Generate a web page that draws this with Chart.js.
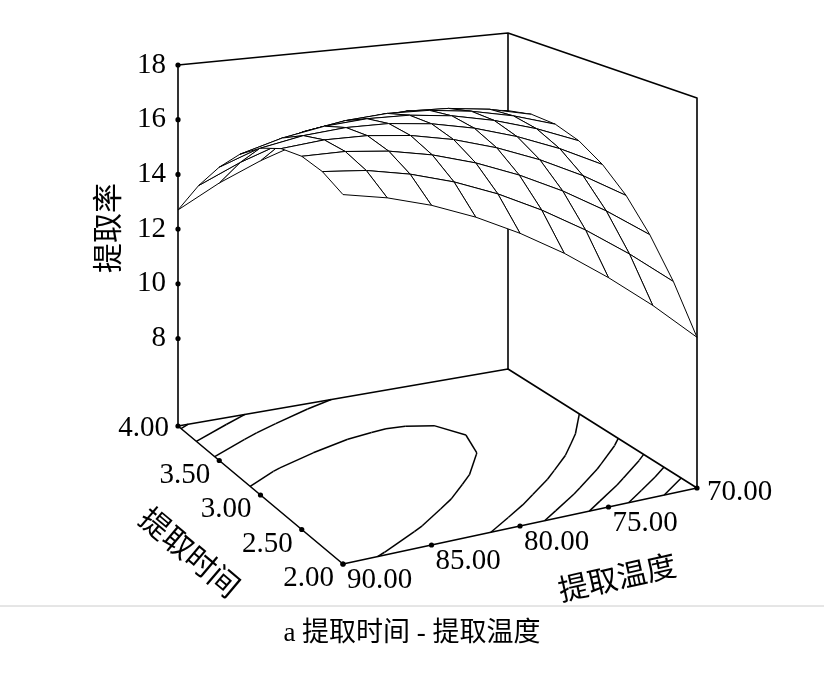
<!DOCTYPE html>
<html>
<head>
<meta charset="utf-8">
<script src="https://cdn.jsdelivr.net/npm/chart.js@4"></script>
<style>
	html, body { margin: 0; padding: 0; background: #fff; }
	#wrap { width: 824px; height: 678px; }
</style>
</head>
<body>
<div id="wrap"><canvas id="surfaceChart"></canvas></div>
<script>
// extraction time (h), rows of the grid
const times = [2.0, 2.25, 2.5, 2.75, 3.0, 3.25, 3.5, 3.75, 4.0];
// extraction temperature (°C), columns of the grid
const temps = [70, 72.5, 75, 77.5, 80, 82.5, 85, 87.5, 90];
// extraction rate, rows = times, cols = temps
const rate = [
	[9.90, 11.25, 12.44, 13.50, 14.40, 15.16, 15.77, 16.23, 16.55],
	[11.40, 12.60, 13.66, 14.57, 15.34, 15.96, 16.43, 16.76, 16.93],
	[12.64, 13.71, 14.63, 15.40, 16.03, 16.51, 16.84, 17.03, 17.07],
	[13.65, 14.58, 15.36, 15.99, 16.48, 16.82, 17.01, 17.06, 16.96],
	[14.40, 15.19, 15.83, 16.33, 16.68, 16.88, 16.93, 16.84, 16.60],
	[14.91, 15.56, 16.06, 16.42, 16.63, 16.69, 16.61, 16.38, 16.00],
	[15.17, 15.68, 16.04, 16.26, 16.33, 16.25, 16.03, 15.66, 15.14],
	[15.18, 15.56, 15.78, 15.86, 15.79, 15.58, 15.21, 14.70, 14.05],
	[14.95, 15.18, 15.27, 15.21, 15.00, 14.65, 14.14, 13.50, 12.70],
];
const rateTicks = [8, 10, 12, 14, 16, 18];
const timeTicks = [2.0, 2.5, 3.0, 3.5, 4.0];
const tempTicks = [90, 85, 80, 75, 70];
const contourLevels = [10.9, 11.9, 12.9, 13.9, 14.9, 16.3];

const zMin = 4.8, zMax = 18;
const numFont = "29px 'Liberation Serif', 'DejaVu Serif', serif";
const cjkFont = "30px 'Noto Sans CJK SC', sans-serif";

// box frame corners in chart units: [floor, top]
const frame = {
	"2_90": [[343, 564], [343, 149]],
	"4_90": [[178, 426], [178, 65]],
	"2_70": [[697, 488], [697, 98]],
	"4_70": [[508, 369], [508, 33]],
};

function lerp(a, b, f) { return [a[0] + (b[0] - a[0]) * f, a[1] + (b[1] - a[1]) * f]; }

function project(t, T, z) {
	const u = (t - 2) / 2, v = (90 - T) / 20, w = (z - zMin) / (zMax - zMin);
	const c = (k) => lerp(frame[k][0], frame[k][1], w);
	const a = lerp(c("2_90"), c("2_70"), v);
	const b = lerp(c("4_90"), c("4_70"), v);
	return lerp(a, b, u);
}

const surfacePlugin = {
	id: "surface",
	afterDatasetsDraw(chart) {
		const { ctx, scales } = chart;
		const px = (t, T, z) => {
			const p = project(t, T, z);
			return [scales.x.getPixelForValue(p[0]), scales.y.getPixelForValue(p[1])];
		};
		const line = (pts) => {
			ctx.beginPath();
			pts.forEach((p, i) => (i ? ctx.lineTo(p[0], p[1]) : ctx.moveTo(p[0], p[1])));
			ctx.stroke();
		};
		ctx.save();
		ctx.strokeStyle = "#000";
		ctx.lineWidth = 1.6;
		ctx.lineJoin = "round";

		// back walls and floor
		line([px(4, 90, zMin), px(4, 90, zMax), px(4, 70, zMax), px(2, 70, zMax), px(2, 70, zMin)]);
		line([px(4, 70, zMin), px(4, 70, zMax)]);
		line([px(4, 90, zMin), px(2, 90, zMin), px(2, 70, zMin), px(4, 70, zMin), px(4, 90, zMin)]);

		// floor contours (marching squares on the grid)
		ctx.lineWidth = 1.5;
		contourLevels.forEach((lv) => {
			for (let i = 0; i < times.length - 1; i++) {
				for (let j = 0; j < temps.length - 1; j++) {
					const c = [
						[times[i], temps[j], rate[i][j]],
						[times[i], temps[j + 1], rate[i][j + 1]],
						[times[i + 1], temps[j + 1], rate[i + 1][j + 1]],
						[times[i + 1], temps[j], rate[i + 1][j]],
					];
					const hits = [];
					for (let k = 0; k < 4; k++) {
						const p = c[k], q = c[(k + 1) % 4];
						if ((p[2] - lv) * (q[2] - lv) < 0) {
							const f = (lv - p[2]) / (q[2] - p[2]);
							hits.push(px(p[0] + (q[0] - p[0]) * f, p[1] + (q[1] - p[1]) * f, zMin));
						}
					}
					if (hits.length >= 2) line([hits[0], hits[1]]);
					if (hits.length === 4) line([hits[2], hits[3]]);
				}
			}
		});

		// surface mesh, far cells first
		const cells = [];
		for (let i = 0; i < times.length - 1; i++)
			for (let j = 0; j < temps.length - 1; j++) cells.push([i, j, i + (temps.length - 2 - j)]);
		cells.sort((a, b) => b[2] - a[2]);
		ctx.lineWidth = 1;
		ctx.fillStyle = "#fff";
		cells.forEach(([i, j]) => {
			const pts = [
				px(times[i], temps[j], rate[i][j]),
				px(times[i], temps[j + 1], rate[i][j + 1]),
				px(times[i + 1], temps[j + 1], rate[i + 1][j + 1]),
				px(times[i + 1], temps[j], rate[i + 1][j]),
			];
			ctx.beginPath();
			pts.forEach((p, k) => (k ? ctx.lineTo(p[0], p[1]) : ctx.moveTo(p[0], p[1])));
			ctx.closePath();
			ctx.fill();
			ctx.stroke();
		});

		// ticks and labels
		ctx.fillStyle = "#000";
		ctx.font = numFont;
		const dot = (p) => { ctx.beginPath(); ctx.arc(p[0], p[1], 2.6, 0, Math.PI * 2); ctx.fill(); };
		ctx.textAlign = "right";
		ctx.textBaseline = "middle";
		rateTicks.forEach((z) => {
			const p = px(4, 90, z);
			dot(p);
			ctx.fillText(String(z), p[0] - 12, p[1]);
		});
		ctx.textBaseline = "top";
		timeTicks.forEach((t) => {
			const p = px(t, 90, zMin);
			dot(p);
			ctx.fillText(t.toFixed(2), p[0] - 9, p[1] + (t === 4 ? -12 : 0));
		});
		ctx.textAlign = "left";
		tempTicks.forEach((T) => {
			const p = px(2, T, zMin);
			dot(p);
			ctx.fillText(T.toFixed(2), p[0] + (T === 70 ? 10 : 4), p[1] + (T === 70 ? -10 : 2));
		});

		// axis titles
		ctx.font = cjkFont;
		ctx.textAlign = "center";
		ctx.textBaseline = "middle";
		ctx.save();
		ctx.translate(107, 228);
		ctx.rotate(-Math.PI / 2);
		ctx.fillText("提取率", 0, 0);
		ctx.restore();
		ctx.save();
		ctx.translate(190, 552);
		ctx.rotate(0.7);
		ctx.fillText("提取时间", 0, 0);
		ctx.restore();
		ctx.save();
		ctx.translate(617, 577);
		ctx.rotate(-0.22);
		ctx.fillText("提取温度", 0, 0);
		ctx.restore();

		// caption
		ctx.strokeStyle = "#ccc";
		ctx.lineWidth = 1;
		line([[scales.x.getPixelForValue(0), scales.y.getPixelForValue(606)], [scales.x.getPixelForValue(824), scales.y.getPixelForValue(606)]]);
		ctx.font = "27px 'Liberation Serif', 'Noto Sans CJK SC', serif";
		ctx.fillText("a 提取时间 - 提取温度", 412, 634);
		ctx.restore();
	},
};

new Chart(document.getElementById("surfaceChart"), {
	type: "scatter",
	data: { datasets: [{ data: [], pointRadius: 0 }] },
	options: {
		responsive: true,
		maintainAspectRatio: false,
		animation: false,
		layout: { padding: 0 },
		plugins: { legend: { display: false }, tooltip: { enabled: false } },
		scales: {
			x: { type: "linear", min: 0, max: 824, display: false },
			y: { type: "linear", min: 0, max: 678, reverse: true, display: false },
		},
	},
	plugins: [surfacePlugin],
});
</script>
</body>
</html>
